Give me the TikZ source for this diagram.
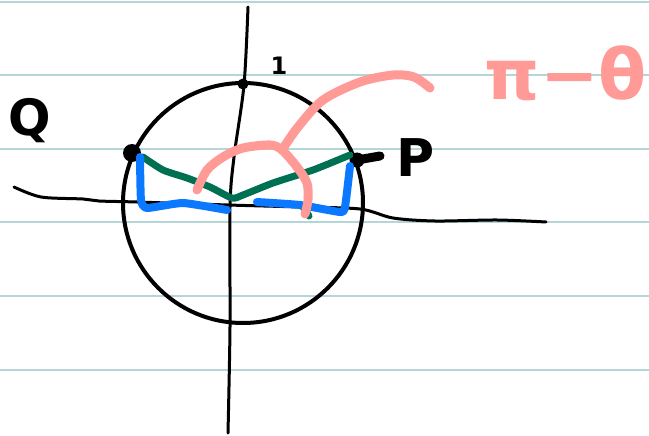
\documentclass[tikz,border=0pt]{standalone}
\usepackage{fontspec}
\newfontfamily\handfont{DejaVu Sans}
\definecolor{rule}{HTML}{B5D6D6}
\definecolor{inkgreen}{HTML}{007052}
\definecolor{inkblue}{HTML}{0A78FF}
\definecolor{inkpink}{HTML}{FF9A96}
\tikzset{
  ruleline/.style={rule, line width=1.6pt},
  axisline/.style={black, line width=3pt, line cap=round, line join=round},
  circleline/.style={black, line width=4pt},
  greenink/.style={inkgreen, line width=7pt, line cap=round, line join=round},
  blueink/.style={inkblue, line width=8pt, line cap=round, line join=round},
  pinkink/.style={inkpink, line width=9pt, line cap=round, line join=round},
  dotmark/.style={circle, fill=black, inner sep=0pt},
  label/.style={font=\handfont\bfseries, text=black, inner sep=0pt}
}
\begin{document}
\begin{tikzpicture}[x=1pt,y=-1pt]
\useasboundingbox[fill=white] (0,0) rectangle (649,436);
% ruled paper
\foreach \yy in {2,75,149,222,296,370}
  \draw[ruleline] (0,\yy) -- (649,\yy);
% axes
\draw[axisline] plot[smooth] coordinates {(248,7) (244,85) (234,157) (230,207) (230,327) (228,433)};
\draw[axisline] plot[smooth] coordinates {(14,187) (41,197) (83,199) (99,201) (137,202) (228,205) (300,207) (360,209) (393,218) (435,221) (497,220) (546,222)};
% unit circle
\coordinate (O) at (243,203);
\draw[circleline] (O) circle[radius=120];
% points
\node[dotmark, minimum size=11pt] (T) at (243,84) {};
\node[dotmark, minimum size=18pt] (Q) at (132,153) {};
\node[dotmark, minimum size=15pt] (P) at (357,160) {};
\coordinate (Ptail) at (380,156);
\draw[black, line width=9pt, line cap=round] (P.center) -- (Ptail);
% green radii
\draw[greenink] plot[smooth, tension=0.4] coordinates {(143,157) (163,170) (187,178) (210,187) (232,198) (243,195) (273,183) (313,170) (350,155)};
\draw[greenink] (303,207) -- (309,216);
% blue projections
\draw[blueink] plot[smooth, tension=0.3] coordinates {(140,157) (141,200) (147,208) (183,203) (227,210)};
\draw[blueink] plot[smooth, tension=0.3] coordinates {(257,202) (300,205) (340,212) (345,207) (350,166)};
% pink angle arc
\draw[pinkink] plot[smooth] coordinates {(197,190) (207,170) (223,157) (243,148) (270,145) (282,150) (297,167) (307,183) (308,200) (305,214)};
\draw[pinkink] plot[smooth] coordinates {(282,150) (298,127) (323,100) (360,82) (393,75) (414,77) (430,88)};
% labels
\node[label, font=\handfont\bfseries\fontsize{50}{50}\selectfont] (lQ) at (30,121) {Q};
\node[label, font=\handfont\bfseries\fontsize{52}{52}\selectfont] (lP) at (416,158) {P};
\node[label, font=\handfont\bfseries\fontsize{24}{24}\selectfont] (l1) at (279,66) {1};
\node[label, text=inkpink, font=\handfont\bfseries\fontsize{70}{70}\selectfont] (lang) at (566,73) {π−θ};
\end{tikzpicture}
\end{document}
